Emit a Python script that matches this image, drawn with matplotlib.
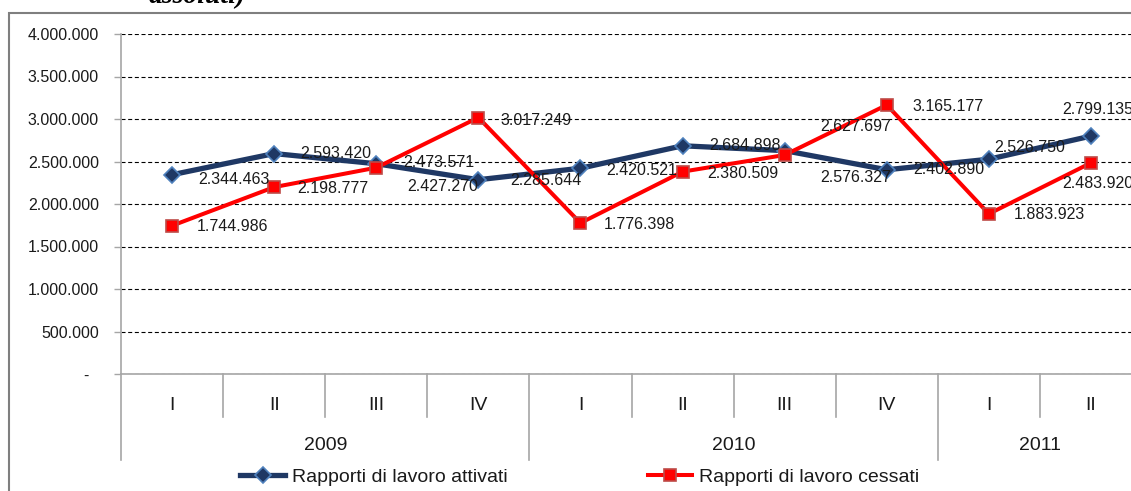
import matplotlib
matplotlib.use("Agg")
import matplotlib.pyplot as plt
import matplotlib.transforms as mtransforms
from matplotlib.patches import Rectangle
from matplotlib.ticker import FuncFormatter, MultipleLocator

plt.rcParams['font.family'] = ['Liberation Sans', 'DejaVu Sans']
plt.rcParams['lines.scale_dashes'] = False

## Dati (valori assoluti)
trimestri = ['I', 'II', 'III', 'IV', 'I', 'II', 'III', 'IV', 'I', 'II']
anni = ['2009', '2010', '2011']
trim_per_anno = [4, 4, 2]
attivati = [2344463, 2593420, 2473571, 2285644, 2420521, 2684898, 2627697, 2402890, 2526750, 2799135]
cessati = [1744986, 2198777, 2427270, 3017249, 1776398, 2380509, 2576327, 3165177, 1883923, 2483920]

# spostamento etichette (pixel) rispetto al punto, come nel grafico originale
off_att = [(26, -5), (26, 0), (27, 1), (32, -1), (26, -2), (27, 0), (36, 24), (27, 0), (5, 12), (-29, 27)]
off_ces = [(25, -1), (23, -1), (31, -19), (22, -3), (23, -1), (25, -2), (36, -22), (26, -2), (25, -1), (-29, -21)]

W, H = 1131, 491
fig = plt.figure(figsize=(W / 100, H / 100), dpi=100)

# bordo esterno (tagliato a destra e in basso)
fig.patches.append(Rectangle((9 / W, -0.1), 1.2, (H - 13) / H + 0.1, transform=fig.transFigure,
                             fill=False, edgecolor='#7f7f7f', linewidth=1.5))
fig.text(149 / W, (H - 3) / H, 'assoluti)', family='Liberation Serif', style='italic',
         weight='bold', fontsize=20, va='baseline', ha='left')

x0, x1, y0, y1 = 121, 1142, 34, 374
ax = fig.add_axes([x0 / W, (H - y1) / H, (x1 - x0) / W, (y1 - y0) / H])
x = list(range(len(trimestri)))

ax.plot(x, attivati, color='#1f3864', linewidth=3.8, marker='D', markersize=8.5,
        markerfacecolor='#1f3864', markeredgecolor='#4f81bd', markeredgewidth=1.2,
        label='Rapporti di lavoro attivati', zorder=3)
ax.plot(x, cessati, color='#ff0000', linewidth=2.9, marker='s', markersize=8.6,
        markerfacecolor='#ff0000', markeredgecolor='#be4b48', markeredgewidth=1.2,
        label='Rapporti di lavoro cessati', zorder=4)

def fmt_it(v):
    return f'{v:,.0f}'.replace(',', '.')

for xi, v, (dx, dy) in zip(x, attivati, off_att):
    ax.annotate(fmt_it(v), (xi, v), xytext=(dx, dy), textcoords='offset pixels',
                ha='left', va='center', fontsize=11.5, color='#1a1a1a', zorder=5)
for xi, v, (dx, dy) in zip(x, cessati, off_ces):
    ax.annotate(fmt_it(v), (xi, v), xytext=(dx, dy), textcoords='offset pixels',
                ha='left', va='center', fontsize=11.5, color='#1a1a1a', zorder=5)

ax.set_xlim(-0.5, len(trimestri) - 0.5)
ax.set_ylim(0, 4000000)
ax.yaxis.set_major_locator(MultipleLocator(500000))
ax.yaxis.set_major_formatter(FuncFormatter(lambda v, p: '-  ' if v == 0 else fmt_it(v)))
ax.tick_params(axis='y', length=5, width=1, color='#a6a6a6', pad=11, labelsize=11.5,
               labelcolor='#1a1a1a')
ax.set_xticks([])
ax.grid(axis='y', color='black', linewidth=0.8, linestyle=(0, (2.9, 1.9)))
ax.set_axisbelow(True)
for s in ['top', 'right']:
    ax.spines[s].set_visible(False)
for s in ['left', 'bottom']:
    ax.spines[s].set_color('#a6a6a6')
    ax.spines[s].set_linewidth(1.2)

# asse delle categorie a due livelli
trans = mtransforms.blended_transform_factory(ax.transData, ax.transAxes)
def ay(py):
    return -(py - y1) / (y1 - y0)

for xi, t in zip(x, trimestri):
    ax.text(xi, ay(405), t, transform=trans, ha='center', va='center',
            fontsize=14, color='#1a1a1a')
start = 0
bordi = [-0.5]
for anno, n in zip(anni, trim_per_anno):
    mid = start + (n - 1) / 2
    ax.text(mid, ay(445), anno, transform=trans, ha='center', va='center',
            fontsize=14, color='#1a1a1a')
    for k in range(1, n):
        xb = start + k - 0.5
        ax.plot([xb, xb], [0, ay(417)], transform=trans, color='#a6a6a6',
                linewidth=1.2, clip_on=False)
    start += n
    bordi.append(start - 0.5)
for xb in bordi:
    ax.plot([xb, xb], [0, ay(460)], transform=trans, color='#a6a6a6',
            linewidth=1.2, clip_on=False)

fig.legend(loc='center', bbox_to_anchor=(580 / W, (H - 477) / H), ncol=2, frameon=False,
           fontsize=14, handlelength=2.3, handletextpad=0.36, columnspacing=7.2,
           labelcolor='#1a1a1a')

fig.savefig('out.png', dpi=100)
